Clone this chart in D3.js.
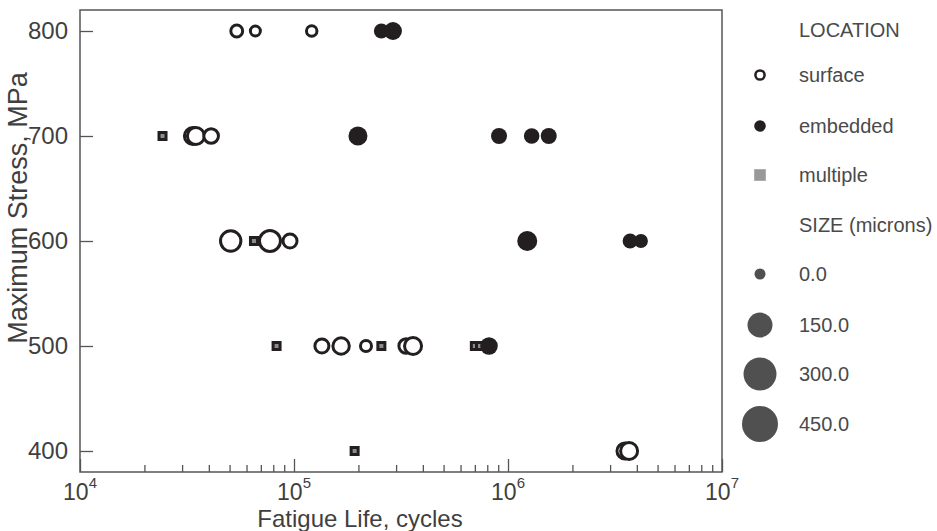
<!DOCTYPE html>
<html>
<head>
<meta charset="utf-8">
<script src="https://cdn.jsdelivr.net/npm/d3@7"></script>
<style>
  body { margin: 0; background: #fff; }
  svg { display: block; font-family: "Liberation Sans", Arial, sans-serif; }
</style>
</head>
<body>
<svg id="chart" width="937" height="531"></svg>
<script>
// fatigue test results
var fatigueLife = [5.4e4, 6.6e4, 1.21e5, 2.56e5, 2.9e5,
  2.43e4, 3.37e4, 3.48e4, 4.10e4, 1.99e5, 9.08e5, 1.29e6, 1.55e6,
  5.06e4, 6.5e4, 7.72e4, 9.58e4, 1.23e6, 3.72e6, 4.18e6,
  8.29e4, 1.35e5, 1.66e5, 2.17e5, 2.56e5, 3.34e5, 3.60e5, 7.0e5, 7.4e5, 8.15e5,
  1.92e5, 3.52e6, 3.68e6];
var maxStress = [800, 800, 800, 800, 800,
  700, 700, 700, 700, 700, 700, 700, 700,
  600, 600, 600, 600, 600, 600, 600,
  500, 500, 500, 500, 500, 500, 500, 500, 500, 500,
  400, 400, 400];
var crackLocation = ["surface", "surface", "surface", "embedded", "embedded",
  "multiple", "surface", "surface", "surface", "embedded", "embedded", "embedded", "embedded",
  "surface", "multiple", "surface", "surface", "embedded", "embedded", "embedded",
  "multiple", "surface", "surface", "surface", "multiple", "surface", "surface", "multiple", "multiple", "embedded",
  "multiple", "surface", "surface"];
var sizeMicrons = [20, 0, 5, 32, 64,
  0, 75, 75, 50, 75, 43, 38, 43,
  111, 0, 118, 43, 86, 32, 21,
  0, 43, 69, 11, 0, 47, 75, 0, 0, 60,
  0, 64, 75];

var locationNames = ["surface", "embedded", "multiple"];
var sizeLegend = [0, 150, 300, 450];
var yTicks = [400, 500, 600, 700, 800];
var xDecades = [1e4, 1e5, 1e6, 1e7];

var svg = d3.select("#chart"),
  MARGINS = { top: 10, right: 215, bottom: 59, left: 80 },
  WIDTH = 937, HEIGHT = 531,
  ink = "#231f20", axisGrey = "#555", textGrey = "#3f3f3f";

var xRange = d3.scaleLog()
  .domain([1e4, 1e7])
  .range([MARGINS.left, WIDTH - MARGINS.right]);

var yRange = d3.scaleLinear()
  .domain([380, 820])
  .range([HEIGHT - MARGINS.bottom, MARGINS.top]);

var rScale = d3.scaleLinear()
  .domain(sizeLegend)
  .range([5, 12, 16, 17.5])
  .clamp(true);

// x axis: minor ticks short, decades long
var xAll = xRange.ticks();
svg.append("g")
  .attr("transform", "translate(0," + (HEIGHT - MARGINS.bottom) + ")")
  .call(d3.axisBottom(xRange).tickValues(xAll).tickSize(-7).tickFormat(""))
  .call(g => g.select(".domain").remove())
  .call(g => g.selectAll(".tick line")
    .attr("stroke", axisGrey).attr("stroke-width", 1.3)
    .attr("y2", d => xDecades.indexOf(d) >= 0 ? -13 : -7));

var xLab = svg.append("g").selectAll("text")
  .data(xDecades)
  .enter().append("text")
  .attr("x", d => xRange(d))
  .attr("y", 500)
  .attr("text-anchor", "middle")
  .attr("fill", textGrey)
  .style("font-size", "23px");
xLab.append("tspan").text("10");
xLab.append("tspan")
  .attr("dy", -12)
  .style("font-size", "15px")
  .text(d => Math.round(Math.log10(d)));

svg.append("g")
  .attr("transform", "translate(" + MARGINS.left + ",0)")
  .call(d3.axisLeft(yRange).tickValues(yTicks).tickSize(-13).tickPadding(12))
  .call(g => g.select(".domain").remove())
  .call(g => g.selectAll(".tick line").attr("stroke", axisGrey).attr("stroke-width", 1.3))
  .call(g => g.selectAll(".tick text")
    .attr("fill", textGrey)
    .style("font-size", "24px")
    .style("font-family", "'Liberation Sans', Arial, sans-serif"));

svg.append("rect")
  .attr("x", MARGINS.left)
  .attr("y", MARGINS.top)
  .attr("width", WIDTH - MARGINS.right - MARGINS.left)
  .attr("height", HEIGHT - MARGINS.bottom - MARGINS.top)
  .attr("fill", "none")
  .attr("stroke", axisGrey)
  .attr("stroke-width", 1.5);

svg.append("text")
  .attr("x", 360)
  .attr("y", 527)
  .attr("text-anchor", "middle")
  .attr("fill", textGrey)
  .style("font-size", "24px")
  .text("Fatigue Life, cycles");

svg.append("text")
  .attr("transform", "translate(27,208) rotate(-90)")
  .attr("text-anchor", "middle")
  .attr("fill", textGrey)
  .style("font-size", "27px")
  .text("Maximum Stress, MPa");

// points, drawn in order of life so later ones overlap earlier ones
var points = d3.range(fatigueLife.length).map(i => ({
  n: fatigueLife[i], s: maxStress[i], loc: crackLocation[i], size: sizeMicrons[i]
})).sort((a, b) => a.n - b.n);

var marks = svg.append("g");
points.forEach(function (d) {
  var cx = xRange(d.n), cy = yRange(d.s), r = rScale(d.size);
  if (d.loc === "multiple") {
    marks.append("rect")
      .attr("x", cx - 3.5).attr("y", cy - 3.5)
      .attr("width", 7).attr("height", 7)
      .attr("fill", "#8c8c8c")
      .attr("stroke", ink).attr("stroke-width", 3);
  } else if (d.loc === "surface") {
    marks.append("circle")
      .attr("cx", cx).attr("cy", cy).attr("r", r)
      .attr("fill", "#fff")
      .attr("stroke", ink).attr("stroke-width", 3);
  } else {
    marks.append("circle")
      .attr("cx", cx).attr("cy", cy).attr("r", r + 1)
      .attr("fill", ink);
  }
});

// legend
var legX = 760, legTextX = 799;
var legRows = [30, 75, 126, 175, 225, 274, 325, 374, 424];
var legend = svg.append("g").style("font-size", "20px").attr("fill", "#4a4a4a");

legend.append("text").attr("x", legTextX).attr("y", legRows[0] + 7).text("LOCATION");
locationNames.forEach(function (name, i) {
  var cy = legRows[i + 1];
  if (name === "surface") {
    legend.append("circle").attr("cx", legX).attr("cy", cy).attr("r", 4.6)
      .attr("fill", "#fff").attr("stroke", ink).attr("stroke-width", 2.5);
  } else if (name === "embedded") {
    legend.append("circle").attr("cx", legX).attr("cy", cy).attr("r", 5.8).attr("fill", ink);
  } else {
    legend.append("rect").attr("x", legX - 5.8).attr("y", cy - 5.8)
      .attr("width", 11.6).attr("height", 11.6).attr("fill", "#999");
  }
  legend.append("text").attr("x", legTextX).attr("y", cy + 7).text(name);
});

legend.append("text").attr("x", legTextX).attr("y", legRows[4] + 7).text("SIZE (microns)");
sizeLegend.forEach(function (v, i) {
  var cy = legRows[i + 5];
  legend.append("circle").attr("cx", legX).attr("cy", cy)
    .attr("r", rScale(v) + 0.5).attr("fill", "#505050");
  legend.append("text").attr("x", legTextX).attr("y", cy + 7).text(v.toFixed(1));
});
</script>
</body>
</html>
